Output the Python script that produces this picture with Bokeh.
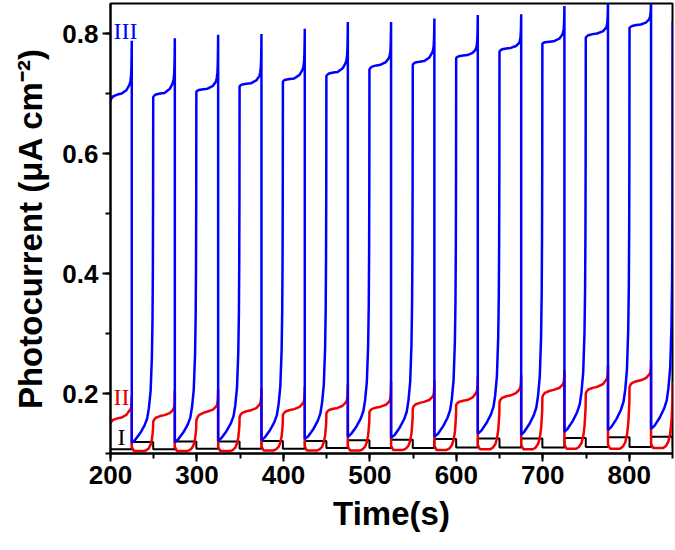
from bokeh.plotting import figure
from bokeh.models import Range1d, Label, SingleIntervalTicker
from bokeh.embed import file_html
from bokeh.resources import INLINE

# ---- switching times (s) ----
t_on = [200.0, 249.4, 299.3, 349.3, 399.4, 449.7, 499.5, 549.6, 599.8, 649.9, 699.5, 749.7, 800.3, 850.3]
t_off = [224.6, 274.4, 324.5, 374.6, 424.7, 474.5, 524.5, 574.6, 624.8, 675.0, 725.0, 775.4, 825.2]

# ---- curve III (blue): levels per cycle (uA cm-2) ----
iii_start = [0.688, 0.694, 0.703, 0.712, 0.720, 0.729, 0.740, 0.748, 0.759, 0.770, 0.783, 0.793, 0.809, 0.820]
iii_plateau = [0.700, 0.701, 0.708, 0.717, 0.725, 0.736, 0.748, 0.754, 0.764, 0.776, 0.787, 0.800, 0.815]
iii_prespike = [0.715, 0.717, 0.720, 0.729, 0.740, 0.751, 0.759, 0.768, 0.773, 0.784, 0.798, 0.809, 0.823]
iii_peak = [0.788, 0.792, 0.798, 0.799, 0.808, 0.819, 0.819, 0.825, 0.831, 0.832, 0.846, 0.856, 0.862]
iii_dark = [0.118, 0.119, 0.121, 0.122, 0.124, 0.128, 0.126, 0.128, 0.133, 0.131, 0.136, 0.139, 0.141]

# ---- curve II (red) ----
ii_start = [0.150, 0.153, 0.155, 0.161, 0.164, 0.167, 0.169, 0.175, 0.181, 0.186, 0.194, 0.200, 0.211, 0.220]
ii_plateau = [0.160, 0.164, 0.170, 0.172, 0.174, 0.176, 0.178, 0.186, 0.189, 0.197, 0.206, 0.211, 0.222]
ii_prespike = [0.172, 0.172, 0.178, 0.181, 0.183, 0.185, 0.186, 0.194, 0.200, 0.206, 0.214, 0.222, 0.231]
ii_peak = [0.195, 0.206, 0.208, 0.210, 0.211, 0.215, 0.220, 0.222, 0.228, 0.231, 0.239, 0.247, 0.256]
ii_dark = [0.104, 0.104, 0.104, 0.105, 0.105, 0.105, 0.106, 0.106, 0.107, 0.107, 0.108, 0.108, 0.109]

# ---- curve I (black) ----
i_light = [0.107, 0.107, 0.108, 0.108, 0.108, 0.109, 0.109, 0.109, 0.110, 0.110, 0.110, 0.111, 0.111, 0.111]
i_dark = [0.119, 0.120, 0.120, 0.121, 0.121, 0.122, 0.123, 0.124, 0.125, 0.125, 0.126, 0.127, 0.128]

# ---- shape of a cycle: (seconds, fraction) ----
ON_RISE = [(0, 0.0), (1, 0.3), (3, 0.6), (8, 0.85), (13, 1.0)]          # after switch-on, start -> plateau
PRE = [(6, 0.4), (2.5, 1.0)]                                             # before switch-off, plateau -> pre-spike
SPIKE = [(1.5, 0.08), (0.8, 0.2), (0.4, 0.4), (0.15, 0.7), (0, 1.0)]     # before switch-off, pre-spike -> peak
DARK_III = [(21, 0.008), (15, 0.028), (10, 0.05), (7, 0.07), (5, 0.1), (3, 0.15),
            (1.5, 0.25), (0.8, 0.36), (0.4, 0.5), (0.15, 0.7), (0, 1.0)]  # before next switch-on
DARK_II = [(11, 0.0), (8, 0.03), (5, 0.1), (3, 0.22), (1.5, 0.4), (0.7, 0.6), (0.2, 0.75), (0, 1.0)]


def trace(start, plateau, prespike, peak, dark, dark_shape, drop_extra):
    ts, vs = [], []
    for k in range(len(t_off)):
        a, b = t_on[k], t_off[k]
        S, P, Q, M = start[k], plateau[k], prespike[k], peak[k]
        for d, f in ON_RISE:
            ts.append(a + d); vs.append(S + f * (P - S))
        for d, f in PRE:
            ts.append(b - d); vs.append(P + f * (Q - P))
        for d, f in SPIKE:
            ts.append(b - d); vs.append(Q + f * (M - Q))
        L = dark[k]
        c, N = t_on[k + 1], start[k + 1]
        ts.append(b); vs.append(L + drop_extra)
        if drop_extra:
            ts.append(b + 2.5); vs.append(L)
        for d, f in dark_shape:
            if c - d > ts[-1]:
                ts.append(c - d); vs.append(L + f * (N - L))
    return ts, vs


def trace_i():
    ts, vs = [], []
    for k in range(len(t_off)):
        ts += [t_on[k], t_off[k], t_off[k]]
        vs += [i_light[k], i_light[k], i_dark[k]]
        ts += [t_on[k + 1]]
        vs += [i_dark[k]]
    ts.append(t_on[-1]); vs.append(i_light[-1])
    return ts, vs


x3, y3 = trace(iii_start, iii_plateau, iii_prespike, iii_peak, iii_dark, DARK_III, 0.0)
x2, y2 = trace(ii_start, ii_plateau, ii_prespike, ii_peak, ii_dark, DARK_II, 0.007)
x1, y1 = trace_i()

p = figure(width=674, height=548, x_range=Range1d(200, 850), y_range=Range1d(0.1, 0.85),
           output_backend="svg", toolbar_location=None,
           min_border_left=110, min_border_right=2, min_border_top=3, min_border_bottom=95)

p.line(x1, y1, line_color="black", line_width=2)
p.line(x2, y2, line_color="#f00000", line_width=2.5)
p.line(x3, y3, line_color="#0000ff", line_width=2.5)

p.grid.visible = False
p.outline_line_color = "black"
p.outline_line_width = 2
p.background_fill_color = "white"
p.border_fill_color = "white"

p.xaxis.ticker = SingleIntervalTicker(interval=100, num_minor_ticks=2)
p.yaxis.ticker = SingleIntervalTicker(interval=0.2, num_minor_ticks=2)
for ax in (p.xaxis, p.yaxis):
    ax.axis_line_width = 2
    ax.major_tick_line_width = 2
    ax.minor_tick_line_width = 2
    ax.major_tick_in = 0
    ax.major_tick_out = 8
    ax.minor_tick_in = 0
    ax.minor_tick_out = 5
    ax.major_label_text_font = "Liberation Sans"
    ax.major_label_text_font_style = "bold"
    ax.major_label_text_font_size = "26px"
    ax.major_label_text_color = "black"
    ax.axis_label_text_font = "Liberation Sans"
    ax.axis_label_text_font_style = "bold"
    ax.axis_label_text_font_size = "33px"
    ax.axis_label_text_color = "black"
    ax.major_label_standoff = 4

p.xaxis.axis_label = "Time(s)"
p.yaxis.axis_label = "Photocurrent (\u03bcA cm\u207b\u00b2)"
p.xaxis.axis_label_standoff = 8
p.yaxis.axis_label_standoff = 10

for txt, xx, yy, col in [("III", 203.5, 0.804, "#0000ff"), ("II", 203.5, 0.1945, "#e00000"), ("I", 208, 0.1276, "black")]:
    p.add_layout(Label(x=xx, y=yy, text=txt, text_color=col, text_font="Liberation Serif",
                       text_font_size="24px", text_baseline="middle", text_align="left"))

open("out.html", "w").write(file_html(p, INLINE))
